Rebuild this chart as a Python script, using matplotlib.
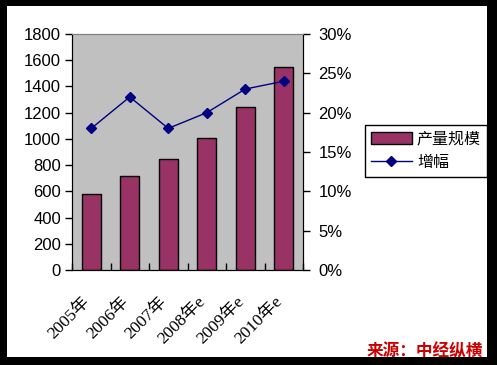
import matplotlib
matplotlib.use("Agg")
import matplotlib.pyplot as plt
from matplotlib.patches import Rectangle
from matplotlib.ticker import FuncFormatter
import matplotlib.transforms as mtransforms
import numpy as np

plt.rcParams['font.family'] = ['Liberation Sans', 'Noto Sans CJK SC', 'DejaVu Sans']

categories = ["2005年", "2006年", "2007年", "2008年e", "2009年e", "2010年e"]
production = [580, 715, 845, 1010, 1245, 1545]
growth = [0.18, 0.22, 0.18, 0.20, 0.23, 0.24]
left_ticks = [0, 200, 400, 600, 800, 1000, 1200, 1400, 1600, 1800]
right_ticks = [0, 0.05, 0.10, 0.15, 0.20, 0.25, 0.30]

W, H = 497, 365
fig = plt.figure(figsize=(W / 100, H / 100), dpi=100)
fig.patch.set_facecolor('black')
fig.add_artist(Rectangle((7 / W, 1 - 357 / H), (487 - 7) / W, (357 - 6) / H,
                         transform=fig.transFigure, facecolor='white', edgecolor='none', zorder=0))

x0, x1, y0, y1 = 72, 303, 34, 270
ax = fig.add_axes([x0 / W, 1 - y1 / H, (x1 - x0) / W, (y1 - y0) / H])
ax.set_facecolor('#C0C0C0')
x = np.arange(len(categories))
ax.bar(x, production, width=0.5, color='#993366', edgecolor='black', linewidth=1, zorder=2, label='产量规模')
ax.set_xlim(-0.5, len(categories) - 0.5)
ax.set_ylim(0, 1800)
ax.set_yticks(left_ticks)
ax.tick_params(axis='y', direction='out', length=5, width=1, labelsize=12, pad=3)
ax.set_xticks(x)
ax.set_xticklabels(categories, rotation=45, ha='right', va='top', rotation_mode='anchor',
                   fontsize=12.5, family=['Liberation Serif', 'Noto Sans CJK SC'])
ax.tick_params(axis='x', length=0, pad=17)
offset = mtransforms.ScaledTranslation(-9 / 100, 0, fig.dpi_scale_trans)
for lbl in ax.get_xticklabels():
    lbl.set_transform(lbl.get_transform() + offset)
ax.set_xticks(np.arange(-0.5, len(categories), 1), minor=True)
ax.tick_params(axis='x', which='minor', direction='in', length=5, width=1)
for s in ['left', 'bottom', 'right']:
    ax.spines[s].set_color('black')
ax.spines['top'].set_color('#808080')

ax2 = ax.twinx()
ax2.plot(x, growth, color='#000080', marker='D', markersize=5, linewidth=1, label='增幅', zorder=3)
ax2.set_ylim(0, 0.30)
ax2.set_yticks(right_ticks)
ax2.yaxis.set_major_formatter(FuncFormatter(lambda v, p: f"{v*100:.0f}%"))
ax2.tick_params(axis='y', direction='out', length=5, width=1, labelsize=12, pad=6)
ax2.spines['right'].set_color('black')
ax2.spines['top'].set_color('#808080')

h1, l1 = ax.get_legend_handles_labels()
h2, l2 = ax2.get_legend_handles_labels()
leg = fig.legend(h1 + h2, l1 + l2, loc='upper left',
                 bbox_to_anchor=(365 / W, 1 - 125 / H), bbox_transform=fig.transFigure,
                 frameon=True, fancybox=False, edgecolor='black', framealpha=1,
                 prop={'family': ['Noto Sans CJK SC'], 'size': 11.5},
                 handlelength=2.6, handleheight=0.8, borderpad=0.35, labelspacing=0.4,
                 handletextpad=0.3, borderaxespad=0)
leg.get_frame().set_linewidth(1)

fig.text(483 / W, 1 - 351 / H, "来源：中经纵横", color='#CC0000', fontsize=12, fontweight='bold',
         ha='right', va='center', family=['Noto Sans CJK SC'])

fig.savefig('out.png', dpi=100, facecolor=fig.get_facecolor())
